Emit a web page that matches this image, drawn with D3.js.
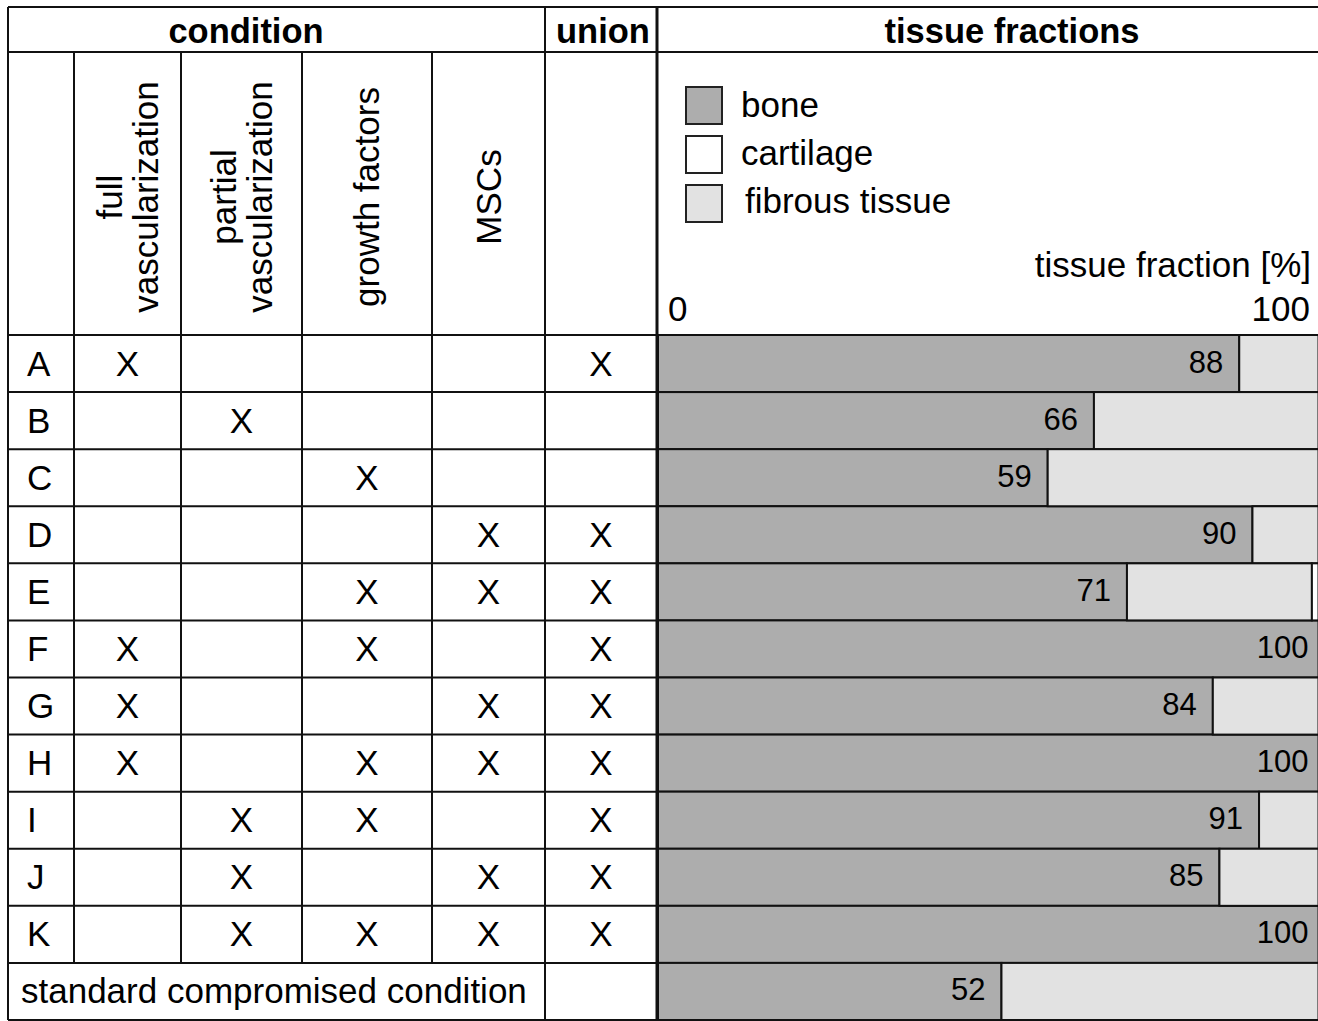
<!DOCTYPE html>
<html>
<head>
<meta charset="utf-8">
<script src="https://cdn.jsdelivr.net/npm/d3@7"></script>
<style>
  body { margin: 0; background: #fff; }
  text { font-family: "Liberation Sans", Arial, sans-serif; fill: #000; }
</style>
</head>
<body>
<div class="canvas"></div>
<script>
// data
const rows = ["A", "B", "C", "D", "E", "F", "G", "H", "I", "J", "K"];
const conditions = ["full vascularization", "partial vascularization", "growth factors", "MSCs"];
// X marks per row: full, partial, growth, MSCs, union
const marks = [
  [1, 0, 0, 0, 1],
  [0, 1, 0, 0, 0],
  [0, 0, 1, 0, 0],
  [0, 0, 0, 1, 1],
  [0, 0, 1, 1, 1],
  [1, 0, 1, 0, 1],
  [1, 0, 0, 1, 1],
  [1, 0, 1, 1, 1],
  [0, 1, 1, 0, 1],
  [0, 1, 0, 1, 1],
  [0, 1, 1, 1, 1],
];
const bone = [88, 66, 59, 90, 71, 100, 84, 100, 91, 85, 100, 52];
const fibrous = [12, 34, 41, 10, 28, 0, 16, 0, 9, 15, 0, 48];
const cartilage = [0, 0, 0, 0, 1, 0, 0, 0, 0, 0, 0, 0];
const tissues = ["bone", "cartilage", "fibrous tissue"];
const tissueColors = ["#adadad", "#ffffff", "#e2e2e2"];
const axisTicks = [0, 100];

// margins and dimensions
const w = 1318;
const h = 1021;
const tableTop = 7, headBottom = 52, subBottom = 335, tableBottom = 1020;
const tableLeft = 8;
const colEdges = [8, 74, 181, 302, 432, 545, 657]; // label, 4 conditions, union, bars
const barLeft = 658, barRight = 1318.5;
const fs = 35;

const svg = d3.select(".canvas").append("svg").attr("width", w).attr("height", h);

const allRows = rows.concat(["standard"]);
const y = d3.scaleBand().domain(allRows).range([subBottom, tableBottom]);
const x = d3.scaleLinear().domain([0, 100]).range([barLeft, barRight]);

// bars (stacked: bone, fibrous, cartilage)
const stackData = allRows.map((r, i) => ({ row: r, bone: bone[i], fibrous: fibrous[i], cartilage: cartilage[i] }));
const stack = d3.stack().keys(["bone", "fibrous", "cartilage"])(stackData);
const fillFor = { bone: tissueColors[0], fibrous: tissueColors[2], cartilage: tissueColors[1] };

const bars = svg.append("g");
stack.forEach((layer) => {
  bars
    .selectAll(null)
    .data(layer.filter((d) => d[1] > d[0]))
    .enter()
    .append("rect")
    .attr("x", (d) => x(d[0]))
    .attr("y", (d) => y(d.data.row))
    .attr("width", (d) => x(d[1]) - x(d[0]))
    .attr("height", y.bandwidth())
    .attr("fill", fillFor[layer.key])
    .attr("stroke", "#111")
    .attr("stroke-width", 2);
});

// bone value labels (full bars sit closer to the cropped edge)
bars
  .selectAll(".val")
  .data(stackData)
  .enter()
  .append("text")
  .attr("class", "val")
  .attr("x", (d) => x(d.bone) - (d.bone >= 100 ? 10 : 16))
  .attr("y", (d) => y(d.row) + y.bandwidth() / 2 + 9)
  .attr("text-anchor", "end")
  .attr("font-size", 31)
  .text((d) => d.bone);

// grid lines of the table
const grid = svg.append("g").attr("stroke", "#111").attr("stroke-width", 2);
[tableTop, headBottom, subBottom].forEach((yy) =>
  grid.append("line").attr("x1", tableLeft).attr("x2", w).attr("y1", yy).attr("y2", yy)
);
allRows.forEach((r) => {
  grid.append("line").attr("x1", tableLeft).attr("x2", colEdges[6]).attr("y1", y(r) + y.bandwidth()).attr("y2", y(r) + y.bandwidth());
});
grid.append("line").attr("x1", tableLeft).attr("x2", w).attr("y1", tableBottom).attr("y2", tableBottom);
// outer/major verticals
[tableLeft, colEdges[5]].forEach((xx) =>
  grid.append("line").attr("x1", xx).attr("x2", xx).attr("y1", tableTop).attr("y2", tableBottom)
);
grid.append("line").attr("x1", colEdges[6]).attr("x2", colEdges[6]).attr("y1", tableTop).attr("y2", tableBottom).attr("stroke-width", 3);
// inner condition verticals
colEdges.slice(1, 5).forEach((xx) =>
  grid.append("line").attr("x1", xx).attr("x2", xx).attr("y1", headBottom).attr("y2", y("standard"))
);

// header titles
const headers = [
  { t: "condition", x: 246 },
  { t: "union", x: 603 },
  { t: "tissue fractions", x: 1012 },
];
svg
  .selectAll(".head")
  .data(headers)
  .enter()
  .append("text")
  .attr("x", (d) => d.x)
  .attr("y", 43)
  .attr("text-anchor", "middle")
  .attr("font-weight", "bold")
  .attr("font-size", 34.5)
  .text((d) => d.t);

// rotated condition labels
const condLines = conditions.map((c) => (c.includes("vascularization") ? c.split(" ") : [c]));
condLines.forEach((lines, i) => {
  const cx = (colEdges[i + 1] + colEdges[i + 2]) / 2;
  const lh = 36;
  const first = cx + 12 - ((lines.length - 1) * lh) / 2;
  lines.forEach((ln, j) => {
    svg
      .append("text")
      .attr("transform", `translate(${first + j * lh}, 197) rotate(-90)`)
      .attr("text-anchor", "middle")
      .attr("font-size", fs)
      .text(ln);
  });
});

// row labels
svg
  .selectAll(".rowlab")
  .data(rows)
  .enter()
  .append("text")
  .attr("x", 27)
  .attr("y", (d) => y(d) + y.bandwidth() / 2 + 12)
  .attr("font-size", fs)
  .text((d) => d);

svg
  .append("text")
  .attr("x", 21)
  .attr("y", y("standard") + y.bandwidth() / 2 + 12)
  .attr("font-size", fs)
  .text("standard compromised condition");

// X marks
marks.forEach((m, i) => {
  m.forEach((v, j) => {
    if (!v) return;
    svg
      .append("text")
      .attr("x", (colEdges[j + 1] + colEdges[j + 2]) / 2)
      .attr("y", y(rows[i]) + y.bandwidth() / 2 + 12)
      .attr("text-anchor", "middle")
      .attr("font-size", fs)
      .text("X");
  });
});

// legend
const legend = svg.append("g").attr("transform", "translate(686, 87)");
legend
  .selectAll("rect")
  .data(tissues)
  .enter()
  .append("rect")
  .attr("x", 0)
  .attr("y", (d, i) => i * 49)
  .attr("width", 36)
  .attr("height", 37)
  .attr("fill", (d, i) => tissueColors[i])
  .attr("stroke", "#222")
  .attr("stroke-width", 2);
legend
  .selectAll("text")
  .data(tissues)
  .enter()
  .append("text")
  .attr("x", (d, i) => (i === 2 ? 59 : 55))
  .attr("y", (d, i) => 30 + i * 48)
  .attr("font-size", fs)
  .text((d) => d);

// axis labels
svg
  .append("text")
  .attr("x", 1311)
  .attr("y", 277)
  .attr("text-anchor", "end")
  .attr("font-size", fs)
  .text("tissue fraction [%]");
svg
  .selectAll(".tick")
  .data(axisTicks)
  .enter()
  .append("text")
  .attr("x", (d) => (d === 0 ? x(d) + 10 : 1310))
  .attr("y", 321)
  .attr("text-anchor", (d) => (d === 0 ? "start" : "end"))
  .attr("font-size", fs)
  .text((d) => d);
</script>
</body>
</html>
